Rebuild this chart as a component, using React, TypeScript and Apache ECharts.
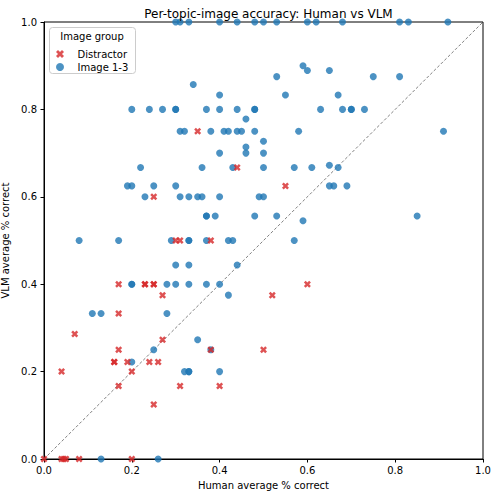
import React, { useEffect, useRef } from "react";
import * as echarts from "echarts";

const TITLE = "Per-topic-image accuracy: Human vs VLM";
const X_NAME = "Human average % correct";
const Y_NAME = "VLM average % correct";
const LEGEND_TITLE = "Image group";
const SERIES_NAMES = ["Distractor", "Image 1-3"];

// Image 1-3 points [human, vlm]
const imagePoints: number[][] = [
  [0.30, 1], [0.31, 1], [0.33, 1], [0.40, 1], [0.44, 1], [0.48, 1], [0.50, 1], [0.53, 1],
  [0.60, 1], [0.62, 1], [0.68, 1], [0.81, 1], [0.83, 1], [0.92, 1],
  [0.34, 0.857], [0.40, 0.833],
  [0.20, 0.8], [0.24, 0.8], [0.27, 0.8], [0.30, 0.8], [0.30, 0.8], [0.37, 0.8], [0.40, 0.8],
  [0.44, 0.8], [0.48, 0.8], [0.48, 0.8], [0.63, 0.8], [0.68, 0.8], [0.70, 0.8], [0.70, 0.8], [0.73, 0.8],
  [0.53, 0.875], [0.75, 0.875], [0.81, 0.875], [0.59, 0.9], [0.60, 0.889], [0.65, 0.889],
  [0.55, 0.833], [0.67, 0.833], [0.46, 0.778],
  [0.31, 0.75], [0.32, 0.75], [0.38, 0.75], [0.41, 0.75], [0.42, 0.75], [0.44, 0.75], [0.45, 0.75],
  [0.48, 0.75], [0.58, 0.75], [0.91, 0.75],
  [0.50, 0.727], [0.46, 0.714], [0.40, 0.70], [0.46, 0.70], [0.50, 0.70],
  [0.22, 0.667], [0.36, 0.667], [0.43, 0.667], [0.50, 0.667], [0.57, 0.667], [0.61, 0.667],
  [0.65, 0.672], [0.67, 0.667],
  [0.19, 0.625], [0.20, 0.625], [0.25, 0.625], [0.30, 0.625], [0.65, 0.625], [0.66, 0.625], [0.69, 0.625],
  [0.23, 0.6], [0.31, 0.6], [0.33, 0.6], [0.35, 0.6], [0.36, 0.6], [0.40, 0.6], [0.49, 0.6], [0.50, 0.6],
  [0.37, 0.556], [0.37, 0.556], [0.39, 0.556], [0.48, 0.556], [0.53, 0.556], [0.85, 0.556], [0.59, 0.545],
  [0.08, 0.5], [0.17, 0.5], [0.29, 0.5], [0.33, 0.5], [0.33, 0.5], [0.37, 0.5], [0.42, 0.5], [0.43, 0.5], [0.57, 0.5],
  [0.30, 0.444], [0.33, 0.444], [0.44, 0.444],
  [0.20, 0.4], [0.20, 0.4], [0.28, 0.4], [0.30, 0.4], [0.33, 0.4], [0.37, 0.4], [0.40, 0.4],
  [0.42, 0.375],
  [0.11, 0.333], [0.13, 0.333], [0.28, 0.333],
  [0.35, 0.273], [0.25, 0.25], [0.38, 0.25], [0.20, 0.222],
  [0.32, 0.2], [0.33, 0.2], [0.33, 0.2], [0.40, 0.2],
  [0.13, 0], [0.26, 0],
];

// Distractor points [human, vlm]
const distractorPoints: number[][] = [
  [0.35, 0.75], [0.44, 0.667], [0.55, 0.625], [0.25, 0.6],
  [0.30, 0.5], [0.31, 0.5], [0.38, 0.5],
  [0.17, 0.4], [0.23, 0.4], [0.23, 0.4], [0.25, 0.4], [0.25, 0.4], [0.60, 0.4],
  [0.27, 0.375], [0.52, 0.375],
  [0.17, 0.333], [0.07, 0.286], [0.27, 0.273],
  [0.17, 0.25], [0.38, 0.25], [0.50, 0.25],
  [0.16, 0.222], [0.16, 0.222], [0.19, 0.222], [0.24, 0.222], [0.26, 0.222],
  [0.04, 0.2], [0.20, 0.2],
  [0.17, 0.167], [0.31, 0.167], [0.40, 0.167],
  [0.25, 0.125],
  [0.0, 0], [0.04, 0], [0.045, 0], [0.05, 0], [0.08, 0], [0.20, 0],
];

const diagonal: number[][] = [[0, 0], [1, 1]];

const X_SYMBOL =
  "path://M0,1 L1,0 L2,1 L3,0 L4,1 L3,2 L4,3 L3,4 L2,3 L1,4 L0,3 L1,2 Z";

const FONT = "DejaVu Sans";

export default function App() {
  const ref = useRef<HTMLDivElement>(null);
  useEffect(() => {
    if (!ref.current) return;
    const chart = echarts.init(ref.current, undefined, { renderer: "svg" });
    const axisCommon = {
      type: "value" as const,
      min: 0,
      max: 1,
      interval: 0.2,
      nameLocation: "middle" as const,
      nameTextStyle: { color: "#000", fontSize: 10, fontFamily: FONT },
      axisLine: { show: true, lineStyle: { color: "#000", width: 1 } },
      axisTick: { show: true, length: 3.5, lineStyle: { color: "#000" } },
      axisLabel: {
        color: "#000",
        fontSize: 10,
        fontFamily: FONT,
        margin: 6,
        formatter: (v: number) => v.toFixed(1),
      },
      splitLine: { show: false },
    };
    chart.setOption({
      animation: false,
      backgroundColor: "#fff",
      title: {
        text: TITLE,
        left: 263.5,
        textAlign: "center",
        top: 3,
        textStyle: { fontSize: 12, fontWeight: "normal", color: "#000", fontFamily: FONT },
      },
      grid: {
        left: 44,
        right: 13,
        top: 22,
        bottom: 37,
        show: true,
        borderColor: "#000",
        borderWidth: 1,
        backgroundColor: "transparent",
        containLabel: false,
        outerBoundsMode: "none",
      },
      xAxis: { ...axisCommon, name: X_NAME, nameGap: 21 },
      yAxis: {
        ...axisCommon,
        name: Y_NAME,
        nameGap: 25,
        axisLabel: { ...axisCommon.axisLabel, margin: 7 },
      },
      legend: {
        orient: "vertical",
        left: 51,
        top: 44,
        z: 100,
        itemWidth: 25,
        itemHeight: 8,
        itemGap: 3,
        data: SERIES_NAMES,
        textStyle: { fontSize: 10, color: "#000", fontFamily: FONT },
      },
      graphic: [
        {
          type: "rect",
          z: 50,
          shape: { x: 49.5, y: 27.5, width: 86, height: 46, r: 3 },
          style: { fill: "rgba(255,255,255,0.8)", stroke: "#cccccc", lineWidth: 1 },
        },
        {
          type: "text",
          z: 51,
          x: 92,
          y: 31,
          style: {
            text: LEGEND_TITLE,
            fontSize: 10,
            fontFamily: FONT,
            fill: "#000",
            align: "center",
          },
        },
      ],
      series: [
        {
          type: "line",
          data: diagonal,
          symbol: "none",
          silent: true,
          z: 1,
          lineStyle: { color: "#808080", width: 1, type: [3, 2] },
        },
        {
          name: SERIES_NAMES[0],
          type: "scatter",
          data: distractorPoints,
          symbol: X_SYMBOL,
          symbolSize: 7,
          z: 3,
          itemStyle: { color: "#d62728", opacity: 0.8 },
        },
        {
          name: SERIES_NAMES[1],
          type: "scatter",
          data: imagePoints,
          symbol: "circle",
          symbolSize: 7,
          z: 2,
          itemStyle: { color: "#1f77b4", opacity: 0.8 },
        },
      ],
    });
    return () => chart.dispose();
  }, []);
  return <div ref={ref} style={{ width: 496, height: 496, position: "absolute", left: 0, top: 0 }} />;
}
